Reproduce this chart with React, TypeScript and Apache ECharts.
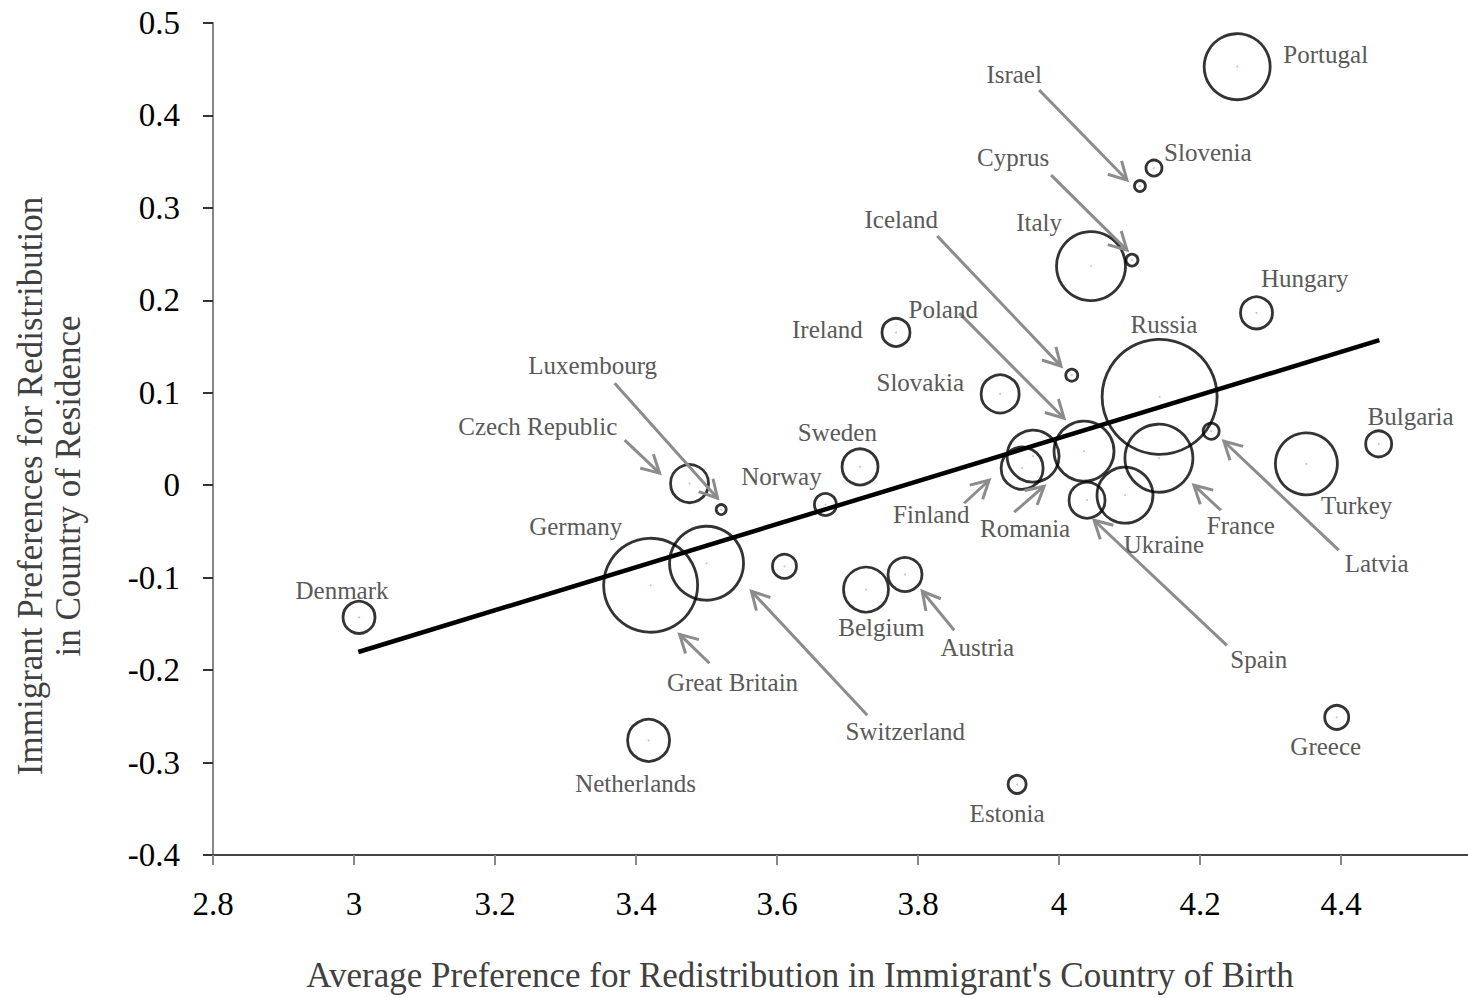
import { useEffect, useRef } from 'react';
import * as echarts from 'echarts';

// Bubble data (country of birth)
const countries = [
  'Portugal', 'Slovenia', 'Israel', 'Cyprus', 'Italy', 'Hungary', 'Ireland', 'Iceland',
  'Russia', 'Slovakia', 'Bulgaria', 'Sweden', 'Latvia', 'Turkey', 'France', 'Poland',
  'Finland', 'Romania', 'Spain', 'Ukraine', 'Czech Republic', 'Luxembourg', 'Norway',
  'Great Britain', 'Switzerland', 'Germany', 'Belgium', 'Austria', 'Denmark',
  'Netherlands', 'Estonia', 'Greece',
];
const birthPref = [
  4.2526, 4.1346, 4.1147, 4.1034, 4.0453, 4.28, 3.7687, 4.018,
  4.1426, 3.9164, 4.4533, 3.7177, 4.2157, 4.3508, 4.1416, 4.0354,
  3.9632, 3.9476, 4.0397, 4.0935, 3.4759, 3.5208, 3.6686,
  3.4207, 3.5, 3.6105, 3.7262, 3.7815, 3.0071,
  3.4178, 3.9405, 4.3938,
];
const residencePref = [
  0.4527, 0.3431, 0.3236, 0.2435, 0.237, 0.1865, 0.1653, 0.119,
  0.0956, 0.0988, 0.0447, 0.0198, 0.0584, 0.0231, 0.0292, 0.0368,
  0.0314, 0.0184, -0.0162, -0.0108, 0.0018, -0.0263, -0.0209,
  -0.1082, -0.0844, -0.0877, -0.1129, -0.0966, -0.1429,
  -0.276, -0.3236, -0.2511,
];
// relative number of immigrants (bubble area)
const bubbleWeight = [
  1089, 64, 30, 36, 1190, 256, 196, 36,
  3306, 361, 169, 324, 64, 961, 1156, 900,
  676, 441, 324, 784, 361, 25, 121,
  2209, 1369, 144, 506, 289, 256,
  441, 81, 144,
];

// Fitted line
const trendX = [3.0061, 4.4543];
const trendY = [-0.1804, 0.1569];

// Annotation labels (data coordinates)
const labelNames = [
  'Portugal', 'Israel', 'Slovenia', 'Cyprus', 'Italy', 'Iceland', 'Hungary', 'Poland',
  'Ireland', 'Russia', 'Slovakia', 'Luxembourg', 'Czech Republic', 'Sweden', 'Norway',
  'Bulgaria', 'Turkey', 'Latvia', 'France', 'Ukraine', 'Romania', 'Finland', 'Germany',
  'Denmark', 'Belgium', 'Austria', 'Great Britain', 'Switzerland', 'Spain',
  'Netherlands', 'Estonia', 'Greece',
];
const labelX = [
  4.3782, 3.9363, 4.211, 3.9348, 3.9717, 3.7762, 4.3484, 3.8357,
  3.6714, 4.1487, 3.8031, 3.3385, 3.2606, 3.6856, 3.6062,
  4.4986, 4.4221, 4.4504, 4.2578, 4.1487, 3.9518, 3.8187, 3.3144,
  2.983, 3.7479, 3.8839, 3.5368, 3.7819, 4.2833,
  3.3994, 3.9263, 4.3782,
];
const labelY = [
  0.4654, 0.4448, 0.3604, 0.355, 0.2846, 0.2879, 0.224, 0.1905,
  0.1688, 0.1742, 0.1115, 0.1299, 0.0639, 0.0574, 0.0097,
  0.0747, -0.0216, -0.0844, -0.0433, -0.0639, -0.0465, -0.0314, -0.0444,
  -0.1136, -0.1537, -0.1753, -0.2132, -0.2662, -0.1883,
  -0.3225, -0.355, -0.2825,
];

// Arrows: [fromX, fromY, toX, toY]
const arrows = [
  [3.9717, 0.4275, 4.0963, 0.3301],
  [3.9887, 0.3355, 4.0963, 0.2543],
  [3.8272, 0.2695, 4.0028, 0.1288],
  [3.8584, 0.1861, 4.0071, 0.0725],
  [3.3697, 0.1104, 3.5156, -0.0141],
  [3.3839, 0.0487, 3.4334, 0.013],
  [3.8654, -0.0195, 3.9008, 0.0054],
  [3.9363, -0.0292, 3.9788, -0.0011],
  [4.238, -0.1732, 4.0496, -0.0379],
  [4.2295, -0.0271, 4.1912, 0.0],
  [4.3966, -0.0703, 4.2337, 0.0476],
  [3.8513, -0.1569, 3.8059, -0.1147],
  [3.5042, -0.1926, 3.4618, -0.1613],
  [3.728, -0.2489, 3.5637, -0.1147],
];

const SERIF = '"Liberation Serif", "Times New Roman", serif';

export default function App() {
  const ref = useRef<HTMLDivElement>(null);

  useEffect(() => {
    if (!ref.current) return;
    const chart = echarts.init(ref.current, undefined, { renderer: 'svg' });
    const points = birthPref.map((x, i) => [x, residencePref[i], bubbleWeight[i], countries[i]]);

    chart.setOption({
      animation: false,
      backgroundColor: '#ffffff',
      grid: { left: 213, top: 23, right: -2, bottom: 143, containLabel: false },
      xAxis: {
        type: 'value',
        min: 2.8,
        max: 4.58,
        interval: 0.2,
        axisLine: { show: true, onZero: false, lineStyle: { color: '#444444', width: 2 } },
        axisTick: { show: true, length: 10, lineStyle: { color: '#888888', width: 2 } },
        splitLine: { show: false },
        axisLabel: {
          color: '#000000',
          fontFamily: SERIF,
          fontSize: 33,
          margin: 32,
          showMaxLabel: false,
          formatter: (v: number) => String(Number(v.toFixed(1))),
        },
      },
      yAxis: {
        type: 'value',
        min: -0.4,
        max: 0.5,
        interval: 0.1,
        axisLine: { show: true, onZero: false, lineStyle: { color: '#888888', width: 2 } },
        axisTick: { show: true, length: 10, lineStyle: { color: '#333333', width: 2 } },
        splitLine: { show: false },
        axisLabel: {
          color: '#000000',
          fontFamily: SERIF,
          fontSize: 33,
          margin: 33,
          formatter: (v: number) => String(Number(v.toFixed(1))),
        },
      },
      graphic: [
        {
          type: 'text',
          x: 800,
          y: 975,
          silent: true,
          style: {
            text: "Average Preference for Redistribution in Immigrant's Country of Birth",
            fill: '#404040',
            font: `35px ${SERIF}`,
            align: 'center',
            verticalAlign: 'middle',
          },
        },
        {
          type: 'text',
          x: 49,
          y: 486,
          rotation: Math.PI / 2,
          silent: true,
          style: {
            text: 'Immigrant Preferences for Redistribution\nin Country of Residence',
            fill: '#404040',
            font: `35px ${SERIF}`,
            lineHeight: 38,
            align: 'center',
            verticalAlign: 'middle',
          },
        },
      ],
      series: [
        {
          type: 'scatter',
          data: points,
          symbol: 'circle',
          symbolSize: (val: number[]) => 2 * Math.sqrt(val[2]),
          itemStyle: { color: 'rgba(0,0,0,0)', borderColor: '#000000', borderWidth: 2.8 },
          z: 2,
          silent: true,
        },
        {
          type: 'scatter',
          data: points,
          symbolSize: 2,
          itemStyle: { color: '#f2a0a8' },
          z: 2,
          silent: true,
        },
        {
          type: 'line',
          data: trendX.map((x, i) => [x, trendY[i]]),
          showSymbol: false,
          symbol: 'none',
          lineStyle: { color: '#000000', width: 4.5 },
          z: 3,
          silent: true,
        },
        {
          type: 'custom',
          data: arrows,
          encode: { x: [0, 2], y: [1, 3] },
          clip: false,
          silent: true,
          z: 4,
          renderItem: (_params: any, api: any) => {
            const p1 = api.coord([api.value(0), api.value(1)]);
            const p2 = api.coord([api.value(2), api.value(3)]);
            const ang = Math.atan2(p2[1] - p1[1], p2[0] - p1[0]);
            const L = 20;
            const a = 0.5;
            const h1 = [p2[0] - L * Math.cos(ang - a), p2[1] - L * Math.sin(ang - a)];
            const h2 = [p2[0] - L * Math.cos(ang + a), p2[1] - L * Math.sin(ang + a)];
            return {
              type: 'group',
              children: [
                {
                  type: 'line',
                  shape: { x1: p1[0], y1: p1[1], x2: p2[0], y2: p2[1] },
                  style: { stroke: '#8c8c8c', lineWidth: 3 },
                },
                {
                  type: 'polyline',
                  shape: { points: [h1, p2, h2] },
                  style: { stroke: '#8c8c8c', lineWidth: 3, fill: 'none' },
                },
              ],
            };
          },
        },
        {
          type: 'custom',
          data: labelX.map((x, i) => [x, labelY[i]]),
          clip: false,
          silent: true,
          z: 5,
          renderItem: (params: any, api: any) => {
            const p = api.coord([api.value(0), api.value(1)]);
            return {
              type: 'text',
              x: p[0],
              y: p[1],
              style: {
                text: labelNames[params.dataIndex],
                fill: '#595959',
                font: `25px ${SERIF}`,
                align: 'center',
                verticalAlign: 'middle',
              },
            };
          },
        },
      ],
    });

    return () => chart.dispose();
  }, []);

  return (
    <div
      ref={ref}
      style={{ position: 'fixed', left: 0, top: 0, width: 1468, height: 998, background: '#ffffff' }}
    />
  );
}
